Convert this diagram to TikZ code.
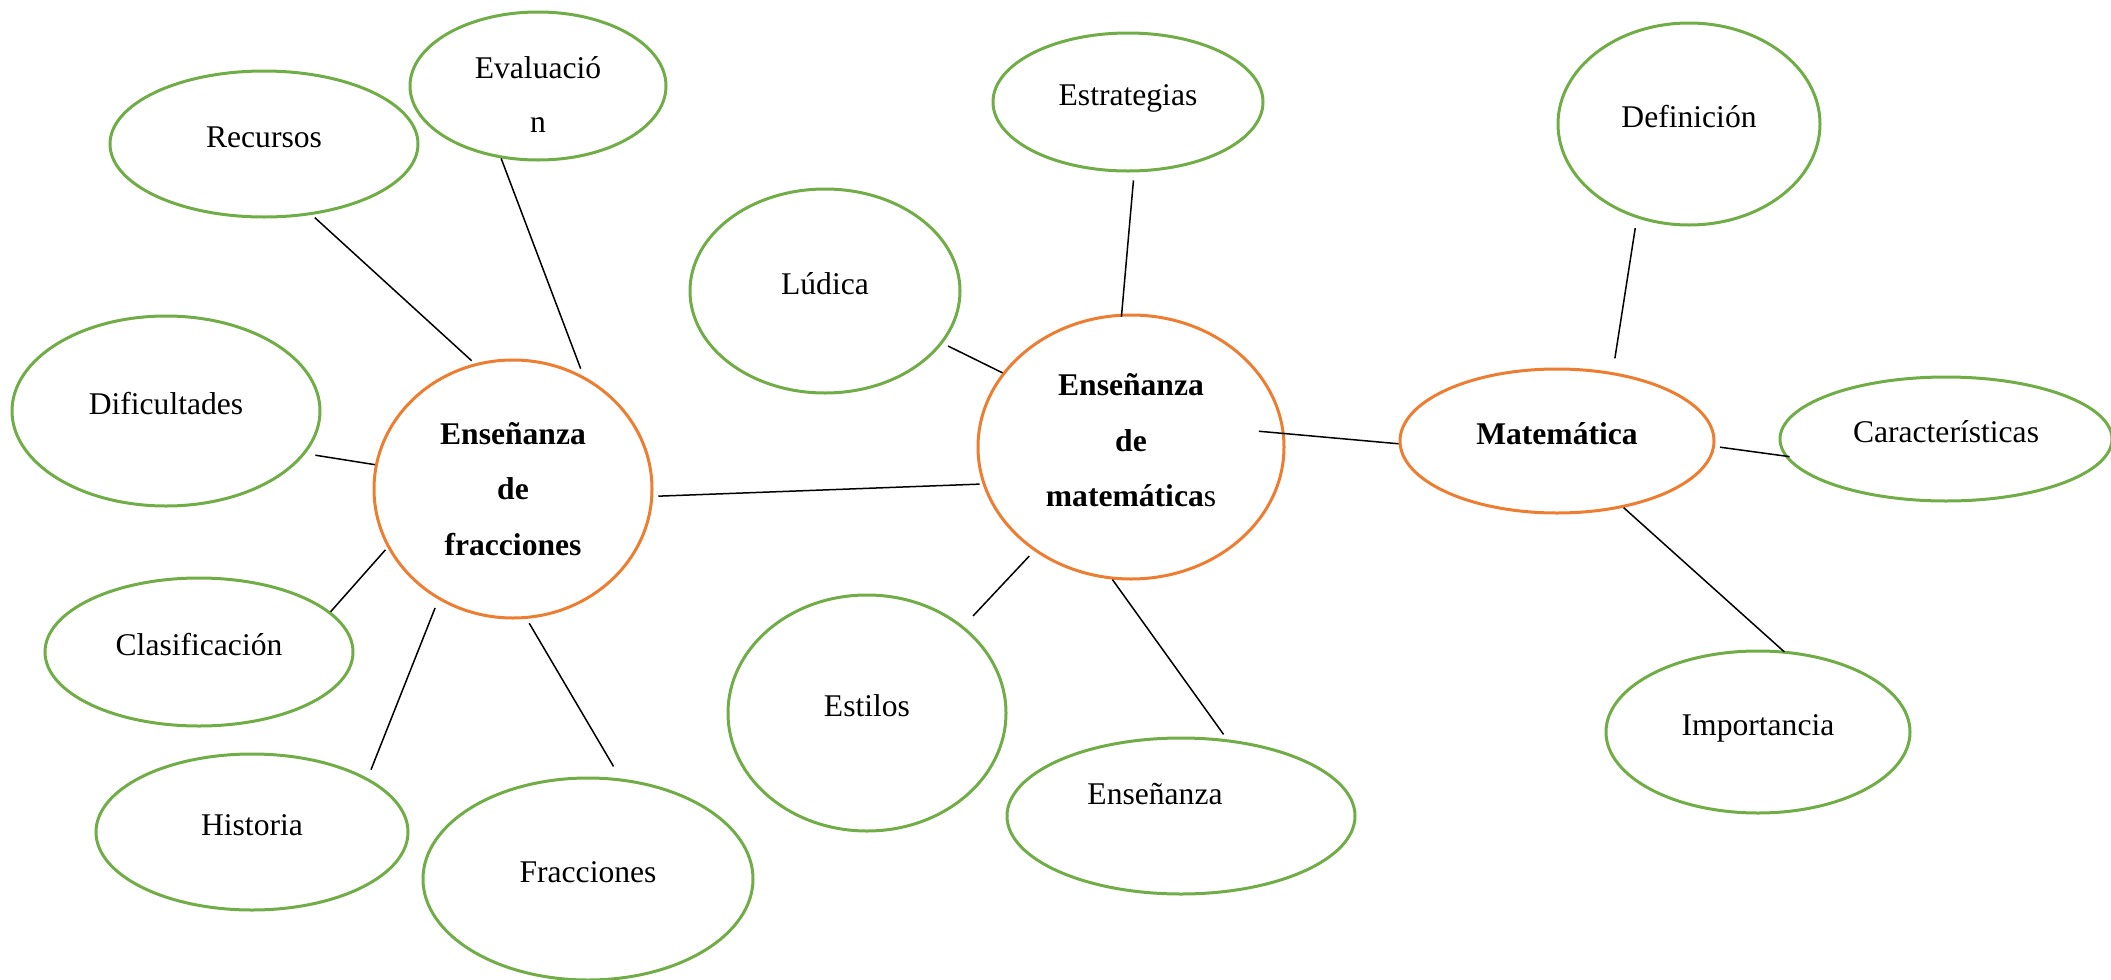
\documentclass[tikz,border=0pt]{standalone}
\usepackage{fontspec}
\setmainfont{Liberation Serif}
\usepackage{xcolor}
\usetikzlibrary{shapes.geometric}

\definecolor{leafgreen}{HTML}{70AD47}
\definecolor{huborange}{HTML}{ED7D31}

\tikzset{
    leaf/.style={ellipse, draw=leafgreen, line width=1.5pt, inner sep=0pt},
    hub/.style={ellipse, draw=huborange, line width=1.5pt, inner sep=0pt,
        font=\fontsize{15.8}{27.75}\selectfont\bfseries},
    oneline/.style={text height=0.7em, text depth=0.38em},
    ellsize/.style 2 args={minimum width=#1pt, minimum height=#2pt},
    link/.style={draw=black, line width=0.75pt}
}

\begin{document}
\begin{tikzpicture}[x=0.5pt, y=-0.5pt, font=\fontsize{15.8}{27}\selectfont]
    \useasboundingbox (0,0) rectangle (2111,980);

    % Left cluster
    \node[hub, ellsize={139}{129}, align=center] (fracc) at (513,489) {Enseñanza\\de\\fracciones};
    \node[leaf, oneline, ellsize={154}{73}] (recursos) at (264,144) {Recursos};
    \node[leaf, ellsize={128}{74}, align=center] (evaluacion) at (538,86) {\rule{0pt}{19pt}Evaluació\\n};
    \node[leaf, oneline, ellsize={154}{95}] (dificultades) at (166,411) {Dificultades};
    \node[leaf, oneline, ellsize={154}{74}] (clasificacion) at (199,652) {Clasificación};
    \node[leaf, oneline, ellsize={156}{78}] (historia) at (252,832) {Historia};
    \node[leaf, oneline, ellsize={165}{101}] (fracciones) at (588,879) {Fracciones};

    % Middle cluster
    \node[hub, ellsize={153}{132}, align=center] (ensmat) at (1131,447) {Enseñanza\\de\\matemática{\mdseries s}\rule[-7pt]{0pt}{0pt}};
    \node[leaf, oneline, ellsize={135}{102}] (ludica) at (825,291) {Lúdica};
    \node[leaf, oneline, ellsize={135}{69}] (estrategias) at (1128,102) {Estrategias};
    \node[leaf, oneline, ellsize={139}{118}] (estilos) at (867,713) {Estilos};
    \node[leaf, ellsize={174}{78}, label={[oneline, xshift=-13pt, yshift=7.3pt]center:Enseñanza}] (ensenanza) at (1181,816) {};

    % Right cluster
    \node[hub, oneline, ellsize={157}{72}] (matematica) at (1557,441) {Matemática};
    \node[leaf, oneline, ellsize={131}{101}] (definicion) at (1689,124) {Definición};
    \node[leaf, oneline, ellsize={166}{62}] (caracteristicas) at (1946,439) {Características};
    \node[leaf, oneline, ellsize={152}{81}] (importancia) at (1758,732) {Importancia};

    % Connectors (start/end shortening in pt)
    \foreach \a/\b/\sa/\sb in {recursos.-56/fracc.107/2/2,
        evaluacion.-117/fracc.58/0/4,
        dificultades.-17/fracc.170/5/0,
        clasificacion.17/fracc.-155/0/1.5,
        historia.25/fracc.-124/4.5/4.5,
        fracciones.72/fracc.-84/7/2.5,
        fracc.-3/ensmat.-166/2.5/1.5,
        ludica.-24/ensmat.150/3/0,
        estrategias.-85/ensmat.94/4/-1.5,
        estilos.42/ensmat.-133/7/3.5,
        ensenanza.59/ensmat.-98/3/0,
        ensmat.5/matematica.181/-13/0,
        definicion.-119/matematica.51/5/7,
        matematica.-2/caracteristicas.186/2.5/-2.5,
        matematica.-45/importancia.73/0/-1} {
        \draw[link, shorten <=\sa pt, shorten >=\sb pt] (\a) -- (\b);
    }
\end{tikzpicture}
\end{document}
